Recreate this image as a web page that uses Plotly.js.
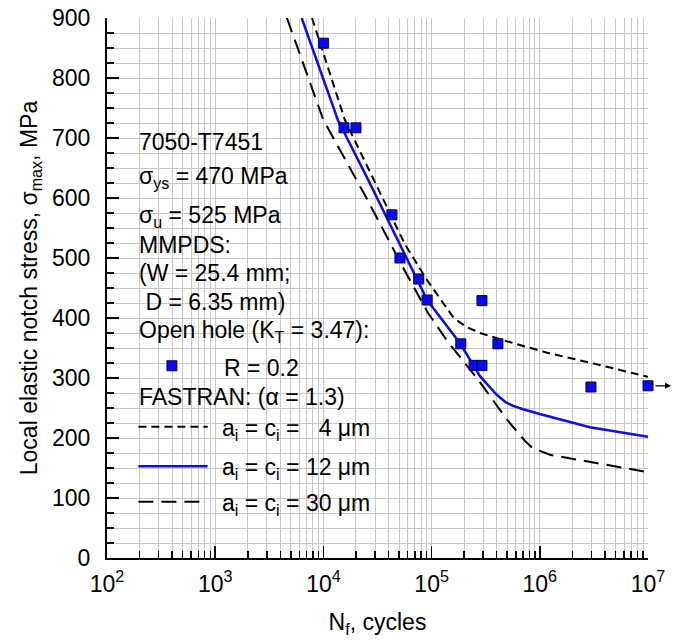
<!DOCTYPE html>
<html>
<head>
<meta charset="utf-8">
<script src="https://cdn.plot.ly/plotly-3.0.1.min.js"></script>
<style>html,body{margin:0;padding:0;background:#fff;}#chart{width:673px;height:642px;}</style>
</head>
<body>
<div id="chart"></div>
<script>
// ---- Data ----
// Test data: open hole, R = 0.2
const testCycles = [1.0e4, 1.55e4, 2.0e4, 4.3e4, 5.1e4, 7.6e4, 9.1e4, 1.86e5, 2.47e5, 2.92e5, 2.92e5, 4.1e5, 2.97e6];
const testStress = [858, 717, 717, 572, 500, 465, 430, 357, 321, 321, 429, 357, 285];
// Runout specimen
const runoutCycles = [1.0e7];
const runoutStress = [287];

// FASTRAN ai = ci = 4 um
const fa4Cycles = [7.85e3, 1.58e4, 3.0e4, 5.7e4, 9.1e4, 1.6e5, 2.1e5, 2.8e5, 5.0e5, 1.17e6, 3.0e6, 1.0e7];
const fa4Stress = [900, 730, 626, 522, 463, 400, 385, 375, 361, 342, 325, 302];
// FASTRAN ai = ci = 12 um
const fa12Cycles = [6.3e3, 1.36e4, 2.5e4, 4.8e4, 9.1e4, 1.83e5, 2.8e5, 4.0e5, 4.8e5, 5.6e5, 7.0e5, 1.0e6, 2.9e6, 1.0e7];
const fa12Stress = [900, 730, 636, 532, 430, 358, 303, 272, 260, 254, 248, 240, 218, 202];
// FASTRAN ai = ci = 30 um
const fa30Cycles = [4.6e3, 1.0e4, 2.5e4, 5.6e4, 9.3e4, 1.38e5, 2.75e5, 5.0e5, 7.3e5, 8.6e5, 1.24e6, 2.9e6, 1.0e7];
const fa30Stress = [900, 730, 600, 480, 408, 363, 295, 230, 195, 183, 172, 160, 143];

// Axis ticks
const xTickVals = [1e2, 1e3, 1e4, 1e5, 1e6, 1e7];
const xTickText = ['10<sup>2</sup>', '10<sup>3</sup>', '10<sup>4</sup>', '10<sup>5</sup>', '10<sup>6</sup>', '10<sup>7</sup>'];
const xMinorVals = [];
for (let d = 2; d < 7; d++) { for (let m = 2; m <= 9; m++) { xMinorVals.push(m * Math.pow(10, d)); } }

// Texts
const infoLines = [
  '7050-T7451',
  '\u03C3<sub>ys</sub> = 470 MPa',
  '\u03C3<sub>u</sub> = 525 MPa',
  'MMPDS:',
  '(W = 25.4 mm;',
  '\u00A0D = 6.35 mm)',
  'Open hole (K<sub>T</sub> = 3.47):'
];
const testLabel = 'R = 0.2';
const fastranLabel = 'FASTRAN: (\u03B1 = 1.3)';
const curveLabels = [
  'a<sub>i</sub> = c<sub>i</sub> = \u00A0\u00A04 \u03BCm',
  'a<sub>i</sub> = c<sub>i</sub> = 12 \u03BCm',
  'a<sub>i</sub> = c<sub>i</sub> = 30 \u03BCm'
];

// ---- Styles ----
const FONT = 'Arial, "Liberation Sans", Helvetica, sans-serif';
const FS = 23;
const BLUE = 'rgb(15,15,220)';
const MARKER_FILL = 'rgb(10,10,235)';
const MARKER_EDGE = 'rgb(0,0,90)';
const GRID = 'rgb(200,200,200)';

const traces = [
  {x: fa4Cycles, y: fa4Stress, mode: 'lines', line: {color: 'black', width: 2, dash: '8px,5px'}, hoverinfo: 'skip'},
  {x: fa30Cycles, y: fa30Stress, mode: 'lines', line: {color: 'black', width: 2, dash: '15px,8px'}, hoverinfo: 'skip'},
  {x: fa12Cycles, y: fa12Stress, mode: 'lines', line: {color: BLUE, width: 2.5}, hoverinfo: 'skip'},
  {x: testCycles.concat(runoutCycles), y: testStress.concat(runoutStress), mode: 'markers', cliponaxis: false,
   marker: {symbol: 'square', size: 10, color: MARKER_FILL, line: {color: MARKER_EDGE, width: 1}}}
];

// legend/info layout in paper coords
const X0 = 0.0555;
const infoY = [0.771, 0.705, 0.633, 0.580, 0.528, 0.474, 0.420];
const annotations = infoLines.map((t, i) => ({
  xref: 'paper', yref: 'paper', x: X0, y: infoY[i], xanchor: 'left', yanchor: 'middle',
  text: t, showarrow: false, font: {family: FONT, size: FS, color: 'black'}
}));
annotations.push({xref: 'paper', yref: 'paper', x: 0.212, y: 0.352, xanchor: 'left', yanchor: 'middle',
  text: testLabel, showarrow: false, font: {family: FONT, size: FS, color: 'black'}});
annotations.push({xref: 'paper', yref: 'paper', x: X0, y: 0.298, xanchor: 'left', yanchor: 'middle',
  text: fastranLabel, showarrow: false, font: {family: FONT, size: FS, color: 'black'}});
const curveY = [0.238, 0.166, 0.100];
curveLabels.forEach((t, i) => annotations.push({xref: 'paper', yref: 'paper', x: 0.208, y: curveY[i],
  xanchor: 'left', yanchor: 'middle', text: t, showarrow: false, font: {family: FONT, size: FS, color: 'black'}}));
// runout arrow attached to the runout point
annotations.push({x: Math.log10(runoutCycles[0]), y: runoutStress[0], xref: 'x', yref: 'y',
  text: '', showarrow: true, arrowhead: 2, arrowsize: 1, arrowwidth: 1.2, arrowcolor: 'black',
  ax: -17, ay: 0, xshift: 23});

const sampleY = [0.243, 0.170, 0.104];
const shapes = [
  {type: 'line', xref: 'paper', yref: 'paper', x0: 0.058, x1: 0.186, y0: sampleY[0], y1: sampleY[0], line: {color: 'black', width: 2, dash: '8px,5px'}},
  {type: 'line', xref: 'paper', yref: 'paper', x0: 0.058, x1: 0.186, y0: sampleY[1], y1: sampleY[1], line: {color: BLUE, width: 2.5}},
  {type: 'line', xref: 'paper', yref: 'paper', x0: 0.058, x1: 0.178, y0: sampleY[2], y1: sampleY[2], line: {color: 'black', width: 2, dash: '15px,8px'}},
  {type: 'rect', xref: 'paper', yref: 'paper', xsizemode: 'pixel', ysizemode: 'pixel', xanchor: 0.120, yanchor: 0.356,
   x0: -5, x1: 5, y0: -5, y1: 5, fillcolor: MARKER_FILL, line: {color: MARKER_EDGE, width: 1}}
];

const layout = {
  width: 673, height: 642,
  margin: {l: 107, r: 25, t: 18, b: 84},
  paper_bgcolor: 'white', plot_bgcolor: 'white',
  showlegend: false,
  font: {family: FONT, size: FS, color: 'black'},
  xaxis: {
    type: 'log', range: [2, 7],
    tickmode: 'array', tickvals: xTickVals, ticktext: xTickText,
    ticks: 'inside', ticklen: 12, tickwidth: 1.5, tickcolor: 'black',
    showline: true, linecolor: 'black', linewidth: 2, mirror: false,
    showgrid: true, gridcolor: GRID, gridwidth: 1,
    zeroline: false,
    minor: {tickmode: 'array', tickvals: xMinorVals, ticks: 'inside', ticklen: 7, tickwidth: 1.5, tickcolor: 'black', showgrid: true, gridcolor: GRID, gridwidth: 1},
    tickfont: {family: FONT, size: FS, color: 'black'},
    ticklabelstandoff: 4,
    title: {text: 'N<sub>f</sub>, cycles', font: {family: FONT, size: FS, color: 'black'}, standoff: 18},
    automargin: false
  },
  yaxis: {
    range: [0, 900], tick0: 0, dtick: 100,
    ticks: 'inside', ticklen: 12, tickwidth: 1.5, tickcolor: 'black',
    showline: true, linecolor: 'black', linewidth: 2, mirror: false,
    showgrid: true, gridcolor: GRID, gridwidth: 1,
    zeroline: false,
    minor: {dtick: 25, ticks: 'inside', ticklen: 7, tickwidth: 1.5, tickcolor: 'black', showgrid: true, gridcolor: GRID, gridwidth: 1},
    tickfont: {family: FONT, size: FS, color: 'black'},
    ticklabelstandoff: 10,
    title: {text: 'Local elastic notch stress, \u03C3<sub>max</sub>, MPa', font: {family: FONT, size: FS, color: 'black'}, standoff: 8},
    automargin: false
  },
  annotations: annotations,
  shapes: shapes
};

Plotly.newPlot('chart', traces, layout, {staticPlot: true, displayModeBar: false});
</script>
</body>
</html>
